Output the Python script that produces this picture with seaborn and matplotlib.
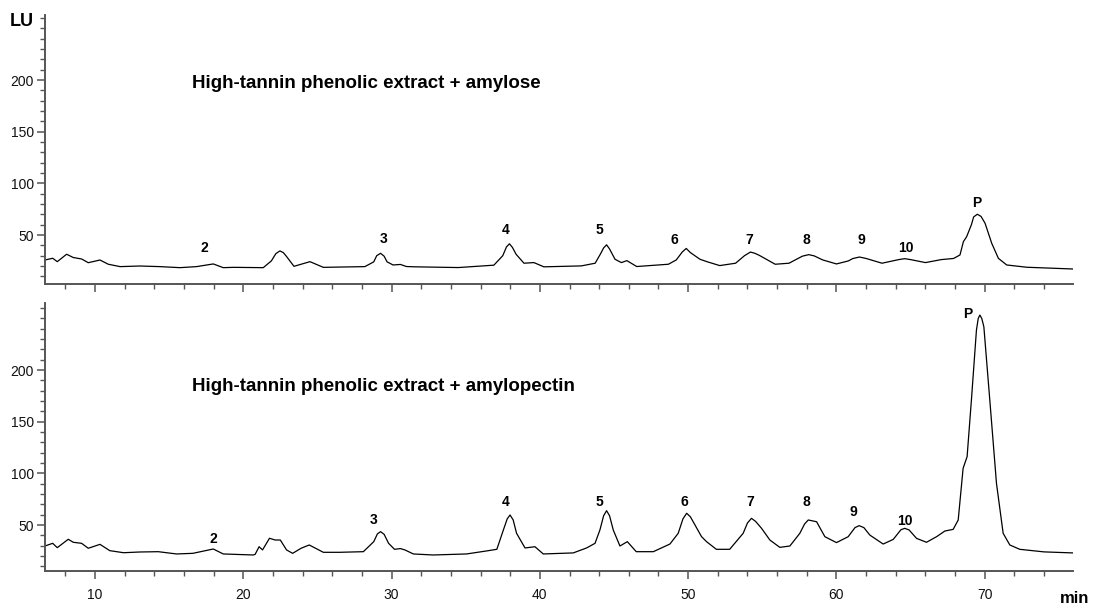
import matplotlib
matplotlib.use("Agg")
import matplotlib.pyplot as plt
import seaborn as sns
import pandas as pd
from matplotlib.ticker import MultipleLocator, FixedLocator

# ---------------- data ----------------
top_time = [6.63, 7.15, 7.46, 8.09, 8.54, 9.10, 9.55, 10.34, 10.9, 11.7, 13.03, 14.38,
            15.73, 16.85, 17.98, 18.65, 19.33, 21.35, 21.9, 22.2, 22.47, 22.7, 22.92,
            23.42, 24.50, 25.4, 28.2, 28.8, 29.0, 29.26, 29.5, 29.7, 30.1, 30.6, 31.0,
            31.6, 34.5, 36.9, 37.5, 37.75, 37.95, 38.15, 38.4, 38.93, 39.6, 40.27, 42.8,
            43.73, 44.1, 44.3, 44.5, 44.7, 45.07, 45.5, 45.87, 46.53, 48.67, 49.2, 49.6,
            49.87, 50.15, 50.8, 51.33, 52.13, 53.2, 53.8, 54.2, 54.5, 54.8, 55.87, 56.8,
            57.7, 58.13, 58.5, 59.07, 60.0, 60.8, 61.1, 61.55, 62.0, 63.07, 64.2, 64.6,
            65.0, 66.0, 67.07, 67.9, 68.33, 68.56, 68.78, 69.1, 69.25, 69.5, 69.75,
            70.02, 70.47, 70.92, 71.48, 72.83, 75.95]
top_lu = [25.8, 27.5, 24.2, 31.4, 28.2, 26.8, 23.2, 25.8, 21.7, 19.4, 20.0, 19.4,
          18.4, 19.4, 22.0, 18.4, 18.7, 18.4, 25.0, 32.0, 34.6, 33.0, 29.2,
          19.7, 24.2, 18.7, 19.4, 24.0, 30.0, 32.3, 29.5, 24.0, 21.0, 21.5, 19.5,
          19.2, 18.5, 20.8, 30.0, 38.5, 41.5, 38.0, 31.3, 22.7, 23.3, 19.2, 20.1,
          22.7, 32.0, 37.5, 40.5, 36.5, 26.5, 23.3, 25.2, 19.5, 21.7, 25.9, 33.5,
          37.0, 33.0, 26.5, 23.9, 20.4, 22.7, 30.0, 33.5, 32.3, 30.3, 21.7, 22.7,
          29.5, 31.0, 29.8, 25.9, 22.0, 24.9, 27.2, 28.7, 27.3, 22.7, 26.2, 27.1,
          26.2, 23.3, 26.2, 27.3, 30.7, 43.6, 48.4, 60.0, 67.5, 70.1, 68.0,
          61.4, 42.0, 27.4, 21.0, 18.8, 17.1]

bottom_time = [6.63, 7.15, 7.46, 8.2, 8.54, 9.1, 9.55, 10.34, 11.0, 11.93, 13.03, 14.27,
               15.5, 16.6, 17.98, 18.65, 20.67, 20.8, 21.07, 21.3, 21.77, 22.15, 22.5,
               22.92, 23.33, 23.9, 24.45, 25.4, 26.5, 28.1, 28.8, 29.05, 29.26, 29.5,
               29.8, 30.2, 30.6, 30.9, 31.47, 32.8, 35.06, 36.4, 37.1, 37.54, 37.8, 37.99,
               38.2, 38.43, 39.0, 39.67, 40.23, 42.25, 43.15, 43.72, 44.05, 44.3, 44.5,
               44.7, 44.95, 45.4, 45.9, 46.5, 47.65, 48.77, 49.33, 49.65, 49.9, 50.15,
               50.46, 50.9, 51.24, 51.9, 52.8, 53.71, 54.0, 54.27, 54.55, 54.95, 55.51,
               56.18, 56.86, 57.53, 57.85, 58.1, 58.66, 59.22, 60.0, 60.79, 61.25, 61.53,
               61.85, 62.25, 63.15, 63.83, 64.35, 64.61, 64.9, 65.4, 66.07, 66.75, 67.31,
               67.87, 68.21, 68.54, 68.81, 69.1, 69.44, 69.56, 69.67, 69.8, 69.94, 70.34,
               70.79, 71.24, 71.69, 72.36, 74.0, 75.95]
bottom_lu = [29.7, 32.3, 28.1, 36.2, 33.3, 32.3, 27.5, 31.3, 25.2, 23.2, 23.9, 24.2,
             22.0, 22.6, 26.8, 22.0, 21.0, 21.6, 29.0, 25.9, 37.2, 35.5, 35.5,
             25.9, 22.6, 27.5, 30.7, 23.6, 23.6, 24.2, 33.9, 41.5, 43.6, 41.0,
             32.3, 26.5, 27.2, 25.9, 22.0, 21.0, 22.0, 24.9, 26.5, 45.2, 56.0, 59.7,
             55.0, 42.0, 27.8, 29.0, 22.0, 23.0, 27.8, 32.3, 45.2, 59.0, 63.9,
             59.0, 45.2, 29.7, 33.9, 24.2, 24.2, 31.6, 42.0, 56.0, 61.4, 58.0,
             50.1, 38.8, 33.9, 26.5, 26.5, 42.0, 52.0, 56.5, 53.5, 46.8, 35.5,
             28.4, 29.7, 42.0, 51.0, 54.9, 53.2, 38.7, 33.0, 38.7, 47.5, 49.4,
             47.5, 40.3, 31.6, 36.1, 45.5, 46.8, 45.2, 37.1, 33.3, 38.7, 44.2,
             45.8, 54.9, 104.9, 116.2, 171.0, 238.8, 250.0, 253.3, 250.0, 241.9, 171.0,
             90.4, 42.0, 30.7, 26.5, 24.0, 23.0]

peak_names_top = ["2", "3", "4", "5", "6", "7", "8", "9", "10", "P"]
peak_t_top = [17.4, 29.44, 37.7, 44.0, 49.07, 54.1, 57.95, 61.7, 64.7, 69.47]
peak_y_top = [37.5, 46.2, 54.5, 54.5, 45.6, 45.6, 45.6, 45.6, 37.1, 81.3]

peak_names_bot = ["2", "3", "4", "5", "6", "7", "8", "9", "10", "P"]
peak_t_bot = [18.0, 28.8, 37.7, 44.0, 49.74, 54.16, 57.98, 61.13, 64.6, 68.82]
peak_y_bot = [36.2, 54.9, 72.6, 72.6, 72.6, 72.6, 72.6, 62.9, 54.2, 254.3]

title_top = "High-tannin phenolic extract + amylose"
title_bot = "High-tannin phenolic extract + amylopectin"
y_major = [50, 100, 150, 200]
x_label = "min"
y_label = "LU"

# ---------------- styling ----------------
sns.set_style("white")
plt.rcParams["font.family"] = ["Liberation Sans", "DejaVu Sans"]

fig = plt.figure(figsize=(10.94, 6.09), dpi=100)
ax1 = fig.add_axes([0.0411, 0.5337, 0.9397, 0.4417])
ax2 = fig.add_axes([0.0411, 0.0624, 0.9397, 0.4401])

df_top = pd.DataFrame({"t": top_time, "lu": top_lu})
df_bot = pd.DataFrame({"t": bottom_time, "lu": bottom_lu})

axis_col = "#555555"
for ax, df, ylim in [(ax1, df_top, (2.6, 263)), (ax2, df_bot, (5.5, 265))]:
    sns.lineplot(data=df, x="t", y="lu", ax=ax, color="black", lw=0.9,
                 sort=False, estimator=None)
    ax.set_xlim(6.63, 75.95)
    ax.set_ylim(*ylim)
    ax.set_xlabel("")
    ax.set_ylabel("")
    for s in ["top", "right"]:
        ax.spines[s].set_visible(False)
    for s in ["left", "bottom"]:
        ax.spines[s].set_color(axis_col)
        ax.spines[s].set_linewidth(1.4)
    ax.xaxis.set_major_locator(MultipleLocator(10))
    ax.xaxis.set_minor_locator(MultipleLocator(2))
    ax.yaxis.set_major_locator(FixedLocator(y_major))
    ax.yaxis.set_minor_locator(MultipleLocator(10))
    ax.tick_params(which="major", direction="out", length=6, width=1.1,
                   color=axis_col, labelsize=10, labelcolor="#111111", pad=2,
                   bottom=True, left=True)
    ax.tick_params(which="minor", direction="out", length=3.5, width=1.0,
                   color=axis_col, bottom=True, left=True)
    ax.set_facecolor("white")

ax1.tick_params(axis="x", which="both", labelbottom=False)
ax2.tick_params(axis="x", pad=6)

ax1.text(16.54, 197, title_top, fontsize=13.5, fontweight="bold", ha="left",
         va="center", color="black")
ax2.text(16.54, 184, title_bot, fontsize=13.5, fontweight="bold", ha="left",
         va="center", color="black")

for n, t, y in zip(peak_names_top, peak_t_top, peak_y_top):
    ax1.text(t, y, n, fontsize=10, fontweight="bold", ha="center", va="center",
             color="black")
for n, t, y in zip(peak_names_bot, peak_t_bot, peak_y_bot):
    ax2.text(t, y, n, fontsize=10, fontweight="bold", ha="center", va="center",
             color="black")

fig.text(0.0201, 0.964, y_label, fontsize=13, fontweight="bold", ha="center",
         va="center", color="black")
fig.text(0.9826, 0.018, x_label, fontsize=12, fontweight="bold", ha="center",
         va="center", color="black")

fig.savefig("out.png", dpi=100, facecolor="white")
